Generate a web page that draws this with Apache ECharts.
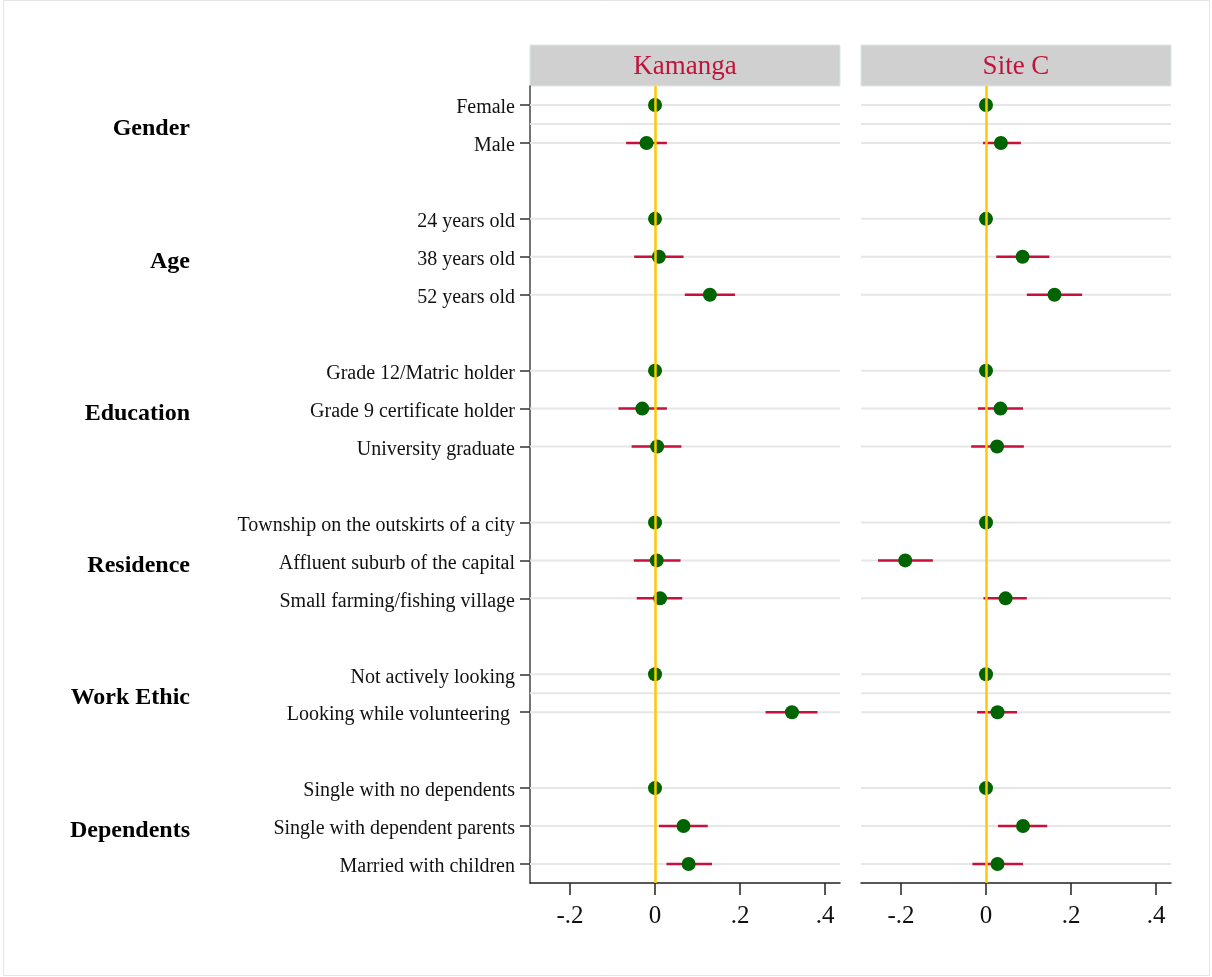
<!DOCTYPE html>
<html>
<head>
<meta charset="utf-8">
<script src="https://cdn.jsdelivr.net/npm/echarts@6/dist/echarts.min.js"></script>
<style>
  html, body { margin: 0; padding: 0; background: #fff; }
  #chart { width: 1212px; height: 977px; }
</style>
</head>
<body>
<div id="chart"></div>
<script>
// Row labels, top to bottom ('' marks a spacer row between groups)
const rowLabels = [
  'Female', 'Male', '',
  '24 years old', '38 years old', '52 years old', '',
  'Grade 12/Matric holder', 'Grade 9 certificate holder', 'University graduate', '',
  'Township on the outskirts of a city', 'Affluent suburb of the capital', 'Small farming/fishing village', '',
  'Not actively looking', 'Looking while volunteering ', '',
  'Single with no dependents', 'Single with dependent parents', 'Married with children'
];
// Attribute group headings and the row position they sit on
const groupNames = ['Gender', 'Age', 'Education', 'Residence', 'Work Ethic', 'Dependents'];
const groupRows = [0.5, 4, 8, 12, 15.5, 19];

const panelNames = ['Kamanga', 'Site C'];
const xTickValues = [-0.2, 0, 0.2, 0.4];
const xTickLabels = ['-.2', '0', '.2', '.4'];

// AMCE estimates with 95% interval bounds (null on spacer rows)
const kamangaEst = [0, -0.020, null, 0, 0.009, 0.129, null, 0, -0.030, 0.005, null, 0, 0.004, 0.012, null, 0, 0.322, null, 0, 0.067, 0.079];
const kamangaLo  = [0, -0.068, null, 0, -0.049, 0.070, null, 0, -0.086, -0.055, null, 0, -0.050, -0.043, null, 0, 0.260, null, 0, 0.009, 0.027];
const kamangaHi  = [0, 0.028, null, 0, 0.067, 0.188, null, 0, 0.028, 0.062, null, 0, 0.060, 0.064, null, 0, 0.382, null, 0, 0.124, 0.134];

const siteCEst = [0, 0.035, null, 0, 0.086, 0.161, null, 0, 0.034, 0.026, null, 0, -0.190, 0.046, null, 0, 0.027, null, 0, 0.087, 0.027];
const siteCLo  = [0, -0.007, null, 0, 0.024, 0.096, null, 0, -0.019, -0.035, null, 0, -0.254, -0.006, null, 0, -0.021, null, 0, 0.028, -0.032];
const siteCHi  = [0, 0.082, null, 0, 0.149, 0.226, null, 0, 0.087, 0.089, null, 0, -0.125, 0.096, null, 0, 0.073, null, 0, 0.144, 0.087];

// Layout
const FONT = "'Liberation Serif', 'Times New Roman', serif";
const PANEL_TOP = 86, PANEL_H = 797, PANEL_W = 310;
const PANEL_LEFT = [530, 861];
const HEADER_H = 41;
const X_MIN = -0.294, X_MAX = 0.435;
const BAR_COLOR = '#c8103c', DOT_COLOR = '#006400', ZERO_COLOR = '#ffc800', GRID_COLOR = '#e6e6e6';

const panels = [
  { est: kamangaEst, lo: kamangaLo, hi: kamangaHi },
  { est: siteCEst, lo: siteCLo, hi: siteCHi }
];

const rowKeys = rowLabels.map((_, i) => String(i));
const gridRows = Array.from(new Set(
  rowLabels.map((l, i) => (l ? i : null)).filter(v => v !== null).concat(groupRows)
)).sort((a, b) => a - b);

const grids = PANEL_LEFT.map(l => ({ left: l, top: PANEL_TOP, width: PANEL_W, height: PANEL_H }));

const xAxes = PANEL_LEFT.map((_, p) => ({
  type: 'value', gridIndex: p, min: X_MIN, max: X_MAX, position: 'bottom',
  axisLine: { show: true, onZero: false, lineStyle: { color: '#222', width: 1.5 } },
  axisTick: { show: true, length: 12, customValues: xTickValues, lineStyle: { color: '#222', width: 1.5 } },
  axisLabel: {
    customValues: xTickValues, margin: 21,
    fontFamily: FONT, fontSize: 25, color: '#111',
    formatter: v => xTickLabels[xTickValues.findIndex(t => Math.abs(t - v) < 1e-9)] ?? ''
  },
  splitLine: { show: false }
}));

const yAxes = [];
PANEL_LEFT.forEach((_, p) => {
  // row labels (category)
  yAxes.push({
    type: 'category', gridIndex: p, data: rowKeys, inverse: true, boundaryGap: true,
    position: 'left',
    axisLine: { show: p === 0, onZero: false, lineStyle: { color: '#444', width: 1.5 } },
    axisTick: {
      show: p === 0, length: 10, alignWithLabel: true,
      interval: idx => rowLabels[idx] !== '',
      lineStyle: { color: '#333', width: 1.5 }
    },
    axisLabel: {
      show: p === 0, interval: 0, margin: 15,
      formatter: v => (rowLabels[+v] ? '{r|' + rowLabels[+v] + '}' : ''),
      rich: { r: { fontFamily: FONT, fontSize: 20, color: '#111', padding: [6, 0, 0, 0] } }
    },
    splitLine: { show: false }
  });
  // continuous row scale used for gridlines and group headings
  yAxes.push({
    type: 'value', gridIndex: p, min: -0.5, max: 20.5, interval: 0.5, inverse: true,
    position: 'left', offset: 340,
    axisLine: { show: false, onZero: false }, axisTick: { show: false }, splitLine: { show: false },
    axisLabel: {
      show: p === 0, margin: 0, showMinLabel: true, showMaxLabel: true,
      formatter: v => {
        const k = groupRows.findIndex(r => Math.abs(r - v) < 1e-6);
        return k >= 0 ? '{g|' + groupNames[k] + '}' : '';
      },
      rich: { g: { fontFamily: FONT, fontSize: 24, fontWeight: 'bold', color: '#000', padding: [10, 0, 0, 0] } }
    }
  });
});

const series = [];
panels.forEach((d, p) => {
  // horizontal gridlines + zero reference line
  series.push({
    type: 'custom', xAxisIndex: p, yAxisIndex: 2 * p + 1, z: 1, silent: true,
    data: gridRows.map(r => [0, r]),
    encode: { x: 0, y: 1 },
    renderItem: (params, api) => {
      const cs = params.coordSys;
      const y = api.coord([0, api.value(1)])[1];
      return {
        type: 'line',
        shape: { x1: cs.x, y1: y, x2: cs.x + cs.width, y2: y },
        style: { stroke: GRID_COLOR, lineWidth: 2 }
      };
    },
    markLine: {
      silent: true, symbol: 'none', label: { show: false },
      lineStyle: { color: ZERO_COLOR, width: 2.5, type: 'solid' },
      data: [{ xAxis: 0 }]
    }
  });
  // confidence intervals
  const barData = [];
  d.est.forEach((e, i) => { if (e !== null) barData.push([d.lo[i], d.hi[i], i]); });
  series.push({
    type: 'custom', xAxisIndex: p, yAxisIndex: 2 * p, z: 3, silent: true,
    data: barData,
    encode: { x: [0, 1], y: 2 },
    renderItem: (params, api) => {
      const a = api.coord([api.value(0), api.value(2)]);
      const b = api.coord([api.value(1), api.value(2)]);
      return {
        type: 'line',
        shape: { x1: a[0], y1: a[1], x2: b[0], y2: b[1] },
        style: { stroke: BAR_COLOR, lineWidth: 2.5 }
      };
    }
  });
  // point estimates
  const ptData = [];
  d.est.forEach((e, i) => { if (e !== null) ptData.push([e, i]); });
  series.push({
    type: 'scatter', xAxisIndex: p, yAxisIndex: 2 * p, z: 4, silent: true,
    symbol: 'circle', symbolSize: 14,
    itemStyle: { color: DOT_COLOR, opacity: 1 },
    data: ptData
  });
});

// panel headers and outer frame
const graphics = [{
  type: 'rect', silent: true, z: -1,
  shape: { x: 3.5, y: 0.5, width: 1206, height: 975 },
  style: { fill: '#fff', stroke: '#e4e4e4', lineWidth: 1 }
}];
PANEL_LEFT.forEach((l, p) => {
  graphics.push({
    type: 'rect', silent: true,
    shape: { x: l, y: PANEL_TOP - HEADER_H, width: PANEL_W, height: HEADER_H },
    style: { fill: '#d0d0d0', stroke: '#dbe6ea', lineWidth: 1 }
  });
  graphics.push({
    type: 'text', silent: true,
    x: l + PANEL_W / 2, y: PANEL_TOP - HEADER_H / 2 + 1,
    style: {
      text: panelNames[p], fill: '#c0143c',
      font: '27px ' + FONT, textAlign: 'center', textVerticalAlign: 'middle'
    }
  });
});

const chart = echarts.init(document.getElementById('chart'), null, { renderer: 'canvas' });
chart.setOption({
  backgroundColor: '#fff',
  animation: false,
  grid: grids,
  xAxis: xAxes,
  yAxis: yAxes,
  series: series,
  graphic: graphics
});
</script>
</body>
</html>
